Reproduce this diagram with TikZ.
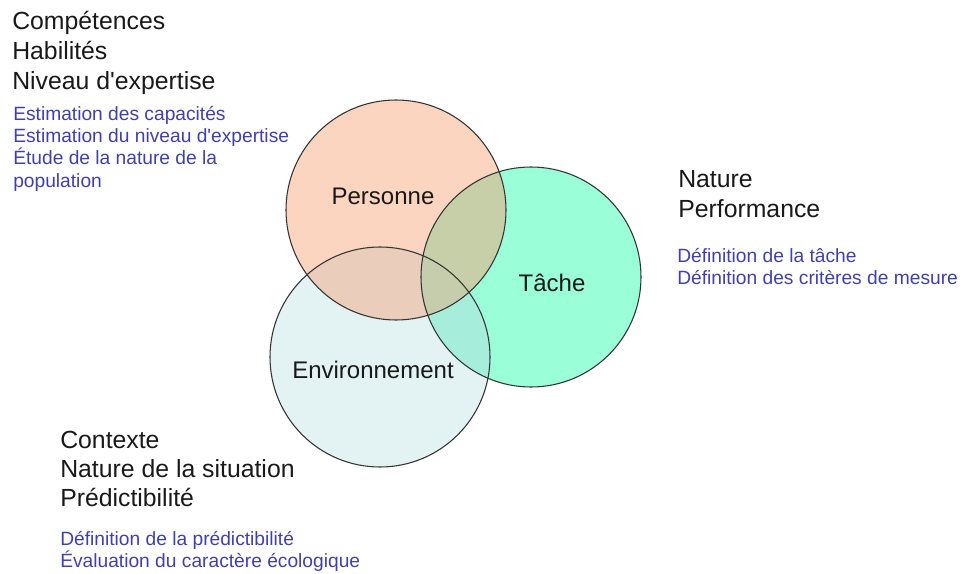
\documentclass[tikz,border=0pt]{standalone}
\usepackage{fontspec}
\setmainfont{Liberation Sans}[Ligatures=TeXOff]
\usepackage{xcolor}
\definecolor{persfill}{HTML}{FCD5C0}
\definecolor{tachefill}{HTML}{9AFFD8}
\definecolor{envfill}{HTML}{E3F2F3}
\definecolor{ptfill}{HTML}{C6CFA8}
\definecolor{pefill}{HTML}{EACDBB}
\definecolor{tefill}{HTML}{A6EDDB}
\definecolor{ptefill}{HTML}{C6CDAC}
\definecolor{bleu}{HTML}{4040AC}
\tikzset{
  rond/.style={draw=black!80, line width=0.8pt},
  titre/.style={anchor=base west, inner sep=0pt, text=black!90, font=\fontsize{18.6}{22}\selectfont},
  detail/.style={anchor=base west, inner sep=0pt, text=bleu, font=\fontsize{14.4}{17}\selectfont},
  nom/.style={inner sep=0pt, text=black!90, font=\fontsize{18}{22}\selectfont}
}

\begin{document}
\begin{tikzpicture}[x=0.75pt,y=-0.75pt]
\useasboundingbox (0,0) rectangle (960,574);
% the three circles
\fill[persfill] (396,210) circle (110);
\fill[tachefill] (531,277) circle (110);
\fill[envfill] (380,357) circle (110);
\begin{scope}
\clip (531,277) circle (110);
\fill[tefill] (380,357) circle (110);
\end{scope}
\begin{scope}
\clip (396,210) circle (110);
\fill[ptfill] (531,277) circle (110);
\fill[pefill] (380,357) circle (110);
\clip (531,277) circle (110);
\fill[ptefill] (380,357) circle (110);
\end{scope}
\draw[rond] (396,210) circle (110);
\draw[rond] (531,277) circle (110);
\draw[rond] (380,357) circle (110);
\node[nom] (personne) at (383,196) {Personne};
\node[nom] (tache) at (552,283) {Tâche};
\node[nom] (env) at (373,370) {Environnement};

% Personne
\node[titre] (comp) at (12,30) {Compétences};
\node[titre] (hab) at (12,60) {Habilités};
\node[titre] (niv) at (12,90) {Niveau d'expertise};
\node[detail] (estcap) at (13,121) {Estimation des capacités};
\node[detail] (estniv) at (13,143) {Estimation du niveau d'expertise};
\node[detail] (etude) at (13,165) {Étude de la nature de la};
\node[detail] (pop) at (13,188) {population};

% Tache
\node[titre] (nature) at (678,188) {Nature};
\node[titre] (perf) at (678,217) {Performance};
\node[detail] (deftache) at (677,262) {Définition de la tâche};
\node[detail] (defcrit) at (677,284) {Définition des critères de mesure};

% Environnement
\node[titre] (contexte) at (60,448) {Contexte};
\node[titre] (natsit) at (60,477) {Nature de la situation};
\node[titre] (predic) at (60,506) {Prédictibilité};
\node[detail] (defpred) at (60,545) {Définition de la prédictibilité};
\node[detail] (evaleco) at (60,567) {Évaluation du caractère écologique};
\end{tikzpicture}
\end{document}
